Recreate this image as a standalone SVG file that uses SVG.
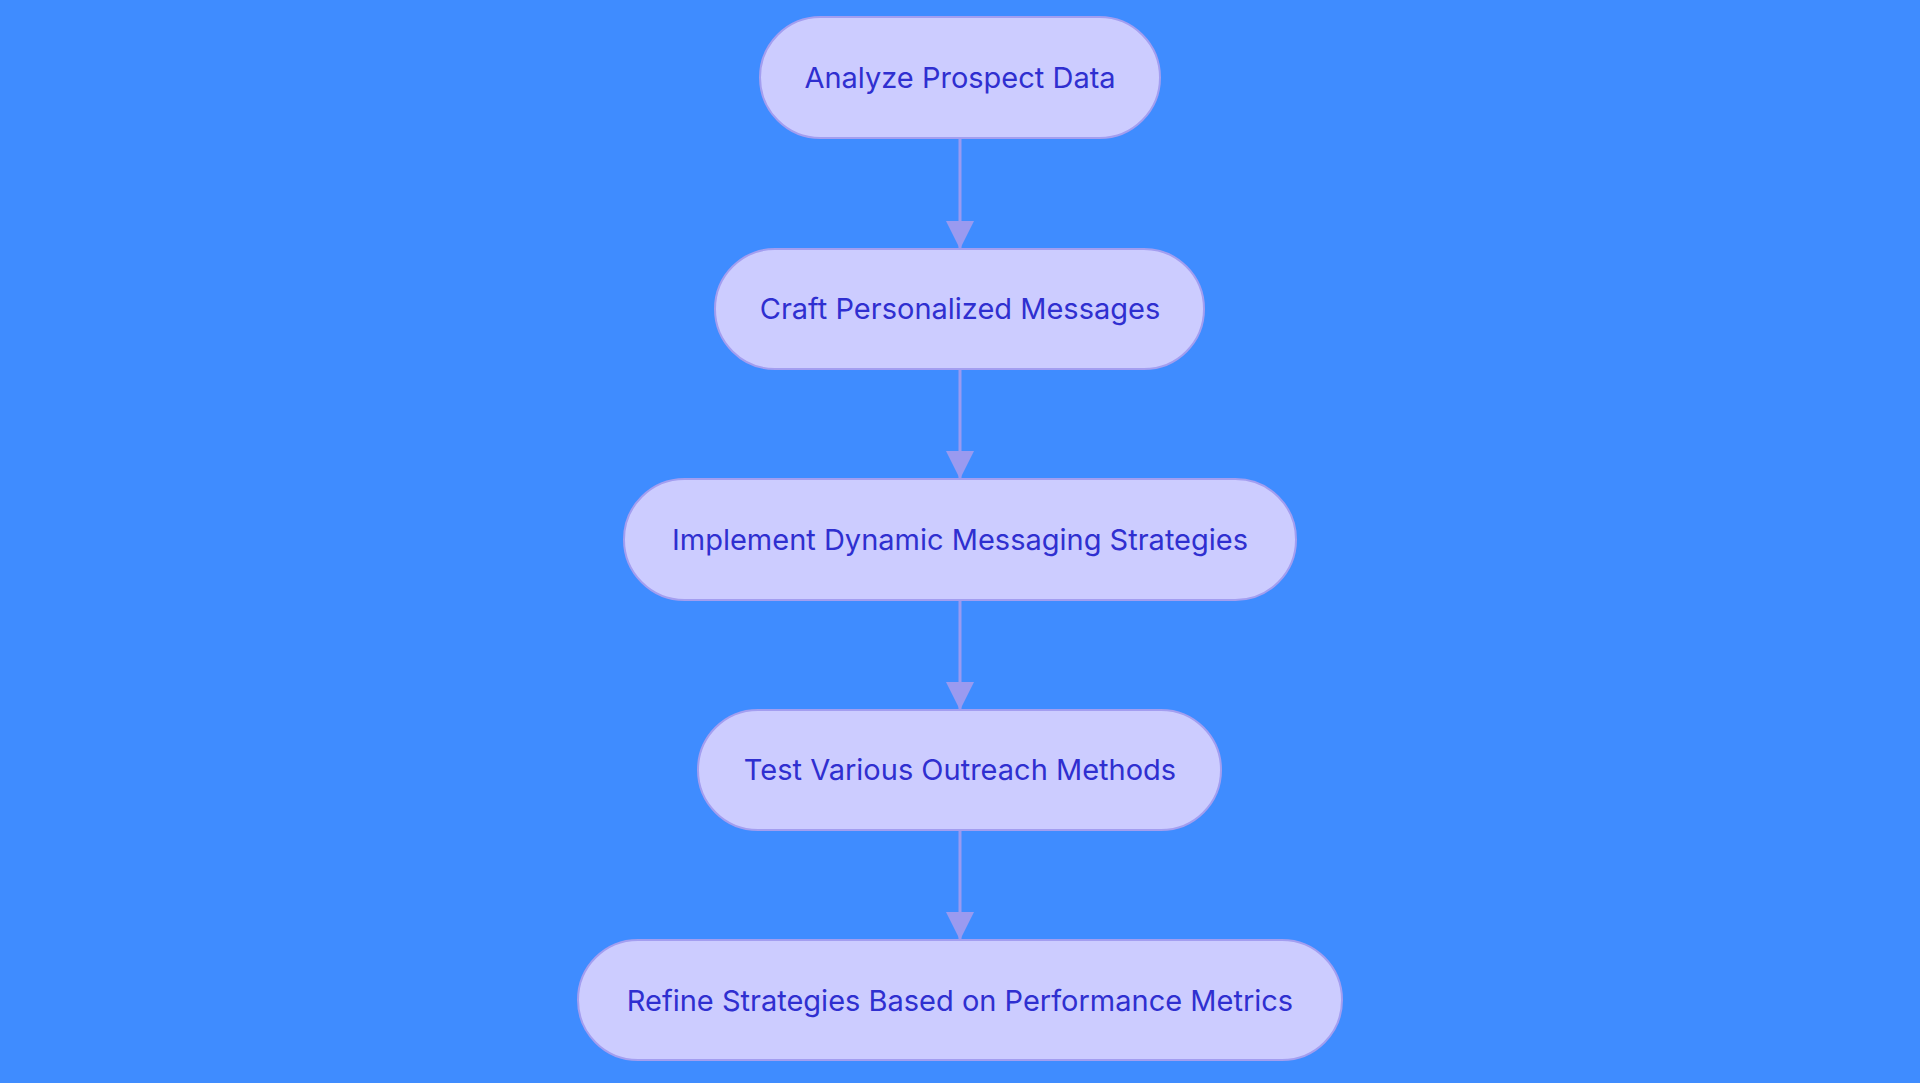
<svg xmlns="http://www.w3.org/2000/svg" width="1920" height="1083" viewBox="0 0 1920 1083">
<style>
.n rect{fill:#ccccff;stroke:#a39ef0;stroke-width:2}
.n text{font-family:Inter,"Noto Sans",sans-serif;font-size:29px;fill:#2f2fd0;text-anchor:middle;dominant-baseline:central}
.c line{stroke:#9a9af0;stroke-width:3}
</style>
<defs><marker id="a" viewBox="0 0 10 10" refX="10" refY="5" markerWidth="9" markerHeight="9" markerUnits="userSpaceOnUse" orient="auto"><path d="M0,0L10,5L0,10z" fill="#9a9af0"/></marker>
<marker id="b" viewBox="0 0 12 12" refX="12" refY="6" markerWidth="28" markerHeight="28" markerUnits="userSpaceOnUse" orient="auto"><path d="M0,0L12,6L0,12z" fill="#9a9af0"/></marker></defs>
<rect width="1920" height="1083" fill="#3f8cff"/>
<g class="c">
<line x1="960" y1="138" x2="960" y2="249" marker-end="url(#b)"/>
<line x1="960" y1="369" x2="960" y2="479" marker-end="url(#b)"/>
<line x1="960" y1="600" x2="960" y2="710" marker-end="url(#b)"/>
<line x1="960" y1="830" x2="960" y2="940" marker-end="url(#b)"/>
</g>
<g class="n" id="n1"><rect x="760" y="17" width="400" height="121" rx="60.5"/><text x="960" y="77">Analyze Prospect Data</text></g>
<g class="n" id="n2"><rect x="715" y="249" width="489" height="120" rx="60"/><text x="960" y="308">Craft Personalized Messages</text></g>
<g class="n" id="n3"><rect x="624" y="479" width="672" height="121" rx="60.5"/><text x="960" y="539">Implement Dynamic Messaging Strategies</text></g>
<g class="n" id="n4"><rect x="698" y="710" width="523" height="120" rx="60"/><text x="960" y="769">Test Various Outreach Methods</text></g>
<g class="n" id="n5"><rect x="578" y="940" width="764" height="120" rx="60"/><text x="960" y="1000">Refine Strategies Based on Performance Metrics</text></g>
</svg>
